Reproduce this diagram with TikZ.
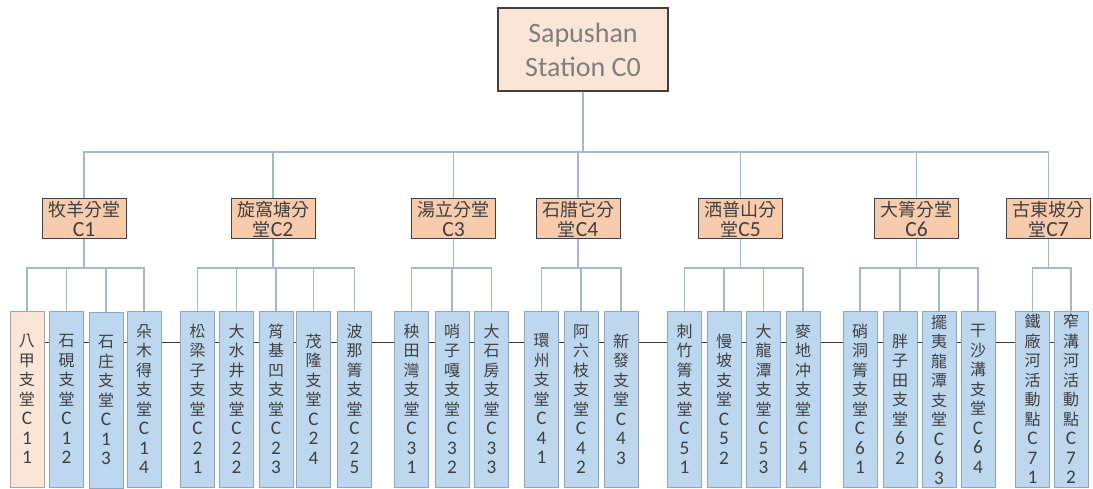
\documentclass[tikz,border=0pt]{standalone}
\usepackage{fontspec}
\setmainfont{Carlito}
\newfontfamily\cjk{Noto Sans CJK TC}
\newfontfamily\lat[Scale=1.2]{Carlito}
\newfontfamily\rootfont{Carlito}
\newcommand\lt[1]{{\lat #1}}
\usetikzlibrary{backgrounds}
\definecolor{rootfill}{HTML}{FBE5D6}
\definecolor{midfill}{HTML}{F8CBAD}
\definecolor{leaffill}{HTML}{BDD7EE}
\definecolor{leafedge}{HTML}{8EA6BE}
\definecolor{paleedge}{HTML}{A6A6A6}
\definecolor{conncol}{HTML}{A3B8C8}
\definecolor{boxedge}{HTML}{404040}
\definecolor{txtgray}{HTML}{7F7F7F}
\definecolor{txtdark}{HTML}{404040}
\definecolor{linedark}{HTML}{3A3A3A}
\begin{document}
\begin{tikzpicture}[x=1pt,y=-1pt,
  rootbox/.style={draw=boxedge, fill=rootfill, line width=1.2pt, inner sep=0pt,
    text=txtgray, font=\fontsize{28}{34}\selectfont\rootfont, align=center,
    minimum width=170pt, minimum height=83pt},
  midbox/.style={draw=boxedge, fill=midfill, line width=1pt, inner sep=0pt,
    text=txtdark, font=\fontsize{18}{20}\selectfont\cjk, align=center,
    minimum width=84pt, minimum height=40pt},
  leafbox/.style={draw=leafedge, fill=leaffill, line width=1pt, inner sep=0pt,
    text=txtdark, font=\fontsize{16}{19.5}\selectfont\cjk, align=center,
    minimum width=34pt, minimum height=176pt},
  paleleaf/.style={leafbox, draw=paleedge, fill=rootfill},
  conn/.style={draw=conncol, line width=1.1pt},
  backline/.style={draw=linedark, line width=0.8pt}]
\useasboundingbox (0,0) rectangle (1093,489);

\node[rootbox] (root) at (583,49.5) {Sapushan\\Station C0};

\node[midbox] (l1) at (84,219) {牧羊分堂\\\lt{C1}};
\node[midbox] (l2) at (273,219) {旋窩塘分\\堂\lt{C2}};
\node[midbox] (l3) at (453.5,219) {湯立分堂\\\lt{C3}};
\node[midbox] (l4) at (578,219) {石腊它分\\堂\lt{C4}};
\node[midbox] (l5) at (740.5,219) {洒普山分\\堂\lt{C5}};
\node[midbox] (l6) at (916.5,219) {大箐分堂\\\lt{C6}};
\node[midbox] (l7) at (1048.5,219) {古東坡分\\堂\lt{C7}};

\node[paleleaf] (c11) at (27,399) {八\\甲\\支\\堂\\\lt{C}\\\lt{1}\\\lt{1}};
\node[leafbox] (c12) at (66.5,399) {石\\硯\\支\\堂\\\lt{C}\\\lt{1}\\\lt{2}};
\node[leafbox] (c13) at (106,400) {石\\庄\\支\\堂\\\lt{C}\\\lt{1}\\\lt{3}};
\node[leafbox] (c14) at (144,399) {朵\\木\\得\\支\\堂\\\lt{C}\\\lt{1}\\\lt{4}};

\node[leafbox] (c21) at (197.5,399) {松\\梁\\子\\支\\堂\\\lt{C}\\\lt{2}\\\lt{1}};
\node[leafbox] (c22) at (236.5,399) {大\\水\\井\\支\\堂\\\lt{C}\\\lt{2}\\\lt{2}};
\node[leafbox] (c23) at (276,399) {筲\\基\\凹\\支\\堂\\\lt{C}\\\lt{2}\\\lt{3}};
\node[leafbox] (c24) at (313.5,399) {茂\\隆\\支\\堂\\\lt{C}\\\lt{2}\\\lt{4}};
\node[leafbox] (c25) at (354.5,399) {波\\那\\箐\\支\\堂\\\lt{C}\\\lt{2}\\\lt{5}};

\node[leafbox] (c31) at (411.5,399) {秧\\田\\灣\\支\\堂\\\lt{C}\\\lt{3}\\\lt{1}};
\node[leafbox] (c32) at (452,399) {哨\\子\\嘎\\支\\堂\\\lt{C}\\\lt{3}\\\lt{2}};
\node[leafbox] (c33) at (491.5,399) {大\\石\\房\\支\\堂\\\lt{C}\\\lt{3}\\\lt{3}};

\node[leafbox] (c41) at (541.5,399) {環\\州\\支\\堂\\\lt{C}\\\lt{4}\\\lt{1}};
\node[leafbox] (c42) at (581,399) {阿\\六\\枝\\支\\堂\\\lt{C}\\\lt{4}\\\lt{2}};
\node[leafbox] (c43) at (621,399) {新\\發\\支\\堂\\\lt{C}\\\lt{4}\\\lt{3}};

\node[leafbox] (c51) at (684.5,399) {刺\\竹\\箐\\支\\堂\\\lt{C}\\\lt{5}\\\lt{1}};
\node[leafbox] (c52) at (724,399) {慢\\坡\\支\\堂\\\lt{C}\\\lt{5}\\\lt{2}};
\node[leafbox] (c53) at (763.5,399) {大\\龍\\潭\\支\\堂\\\lt{C}\\\lt{5}\\\lt{3}};
\node[leafbox] (c54) at (803,399) {麥\\地\\冲\\支\\堂\\\lt{C}\\\lt{5}\\\lt{4}};

\node[leafbox] (c61) at (860,399) {硝\\洞\\箐\\支\\堂\\\lt{C}\\\lt{6}\\\lt{1}};
\node[leafbox] (c62) at (900,399) {胖\\子\\田\\支\\堂\\\lt{6}\\\lt{2}};
\node[leafbox] (c63) at (939,399.5) {擺\\夷\\龍\\潭\\支\\堂\\\lt{C}\\\lt{6}\\\lt{3}};
\node[leafbox] (c64) at (978,399) {干\\沙\\溝\\支\\堂\\\lt{C}\\\lt{6}\\\lt{4}};

\node[leafbox] (c71) at (1032.5,399) {鐵\\廠\\河\\活\\動\\點\\\lt{C}\\\lt{7}\\\lt{1}};
\node[leafbox] (c72) at (1071,399) {窄\\溝\\河\\活\\動\\點\\\lt{C}\\\lt{7}\\\lt{2}};

\coordinate (topbus) at (583,152);
\coordinate (subbus) at (0,268);
\coordinate (hline) at (0,342);

\foreach \m in {l1,l2,l3,l4,l5,l6,l7}
  \draw[conn] (root.south) -- (root.south |- topbus) -| (\m.north);

\foreach \p/\c in {l1/c11,l1/c12,l1/c13,l1/c14,
                   l2/c21,l2/c22,l2/c23,l2/c24,l2/c25,
                   l3/c31,l3/c32,l3/c33,
                   l4/c41,l4/c42,l4/c43,
                   l5/c51,l5/c52,l5/c53,l5/c54,
                   l6/c61,l6/c62,l6/c63,l6/c64,
                   l7/c71,l7/c72}
  \draw[conn] (\p.south) -- (\p.south |- subbus) -| (\c.north);

\begin{scope}[on background layer]
  \draw[backline] (c11.center |- hline) -- (c72.center |- hline);
\end{scope}
\end{tikzpicture}
\end{document}
